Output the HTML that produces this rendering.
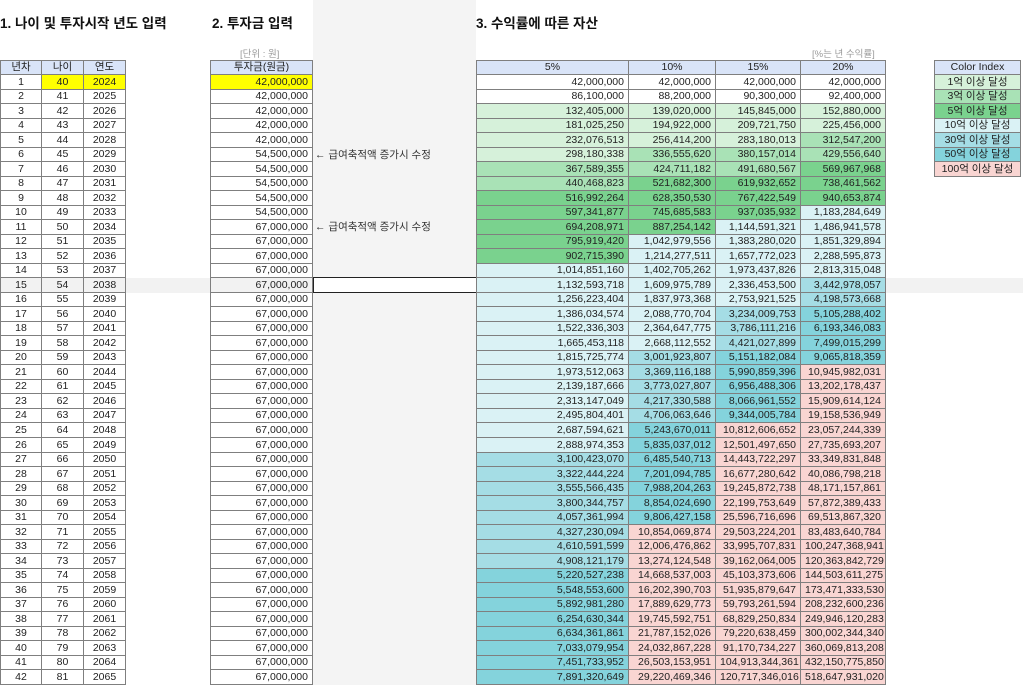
<!DOCTYPE html>
<html><head><meta charset="utf-8">
<style>
body{margin:0;width:1023px;height:685px;overflow:hidden;background:#fff;position:relative;font-family:"Liberation Sans","Noto Sans CJK KR",sans-serif;font-size:10.5px;color:#222}
.c{position:absolute;box-sizing:border-box;border-right:1px solid #7f7f7f;border-bottom:1px solid #7f7f7f;white-space:nowrap;overflow:hidden;padding:0 4px}
.t{position:absolute;font-weight:bold;font-size:13.5px;color:#111}
.s{position:absolute;font-size:9.5px;color:#999}
</style></head><body>
<div style="position:absolute;left:313px;top:0;width:163px;height:685px;background:#f4f4f4"></div>
<div class="t" style="left:0;top:12px">1. 나이 및 투자시작 년도 입력</div>
<div class="t" style="left:212px;top:12px">2. 투자금 입력</div>
<div class="t" style="left:476px;top:12px">3. 수익률에 따른 자산</div>
<div class="s" style="left:240px;top:46px">[단위 : 원]</div>
<div class="s" style="left:812px;top:46px">[%는 년 수익률]</div>
<div id="g"></div>
<script>
const rates=["5%","10%","15%","20%"];
const deposits=[42e6,42e6,42e6,42e6,42e6,54.5e6,54.5e6,54.5e6,54.5e6,54.5e6].concat(Array(32).fill(67e6));
const r5=[42000000,86100000,132405000,181025250,232076513,298180338,367589355,440468823,516992264,597341877,694208971,795919420,902715390,1014851160,1132593718,1256223404,1386034574,1522336303,1665453118,1815725774,1973512063,2139187666,2313147049,2495804401,2687594621,2888974353,3100423070,3322444224,3555566435,3800344757,4057361994,4327230094,4610591599,4908121179,5220527238,5548553600,5892981280,6254630344,6634361861,7033079954,7451733952,7891320649];
const r10=[42000000,88200000,139020000,194922000,256414200,336555620,424711182,521682300,628350530,745685583,887254142,1042979556,1214277511,1402705262,1609975789,1837973368,2088770704,2364647775,2668112552,3001923807,3369116188,3773027807,4217330588,4706063646,5243670011,5835037012,6485540713,7201094785,7988204263,8854024690,9806427158,10854069874,12006476862,13274124548,14668537003,16202390703,17889629773,19745592751,21787152026,24032867228,26503153951,29220469346];
const r15=[42000000,90300000,145845000,209721750,283180013,380157014,491680567,619932652,767422549,937035932,1144591321,1383280020,1657772023,1973437826,2336453500,2753921525,3234009753,3786111216,4421027899,5151182084,5990859396,6956488306,8066961552,9344005784,10812606652,12501497650,14443722297,16677280642,19245872738,22199753649,25596716696,29503224201,33995707831,39162064005,45103373606,51935879647,59793261594,68829250834,79220638459,91170734227,104913344361,120717346016];
const r20=[42000000,92400000,152880000,225456000,312547200,429556640,569967968,738461562,940653874,1183284649,1486941578,1851329894,2288595873,2813315048,3442978057,4198573668,5105288402,6193346083,7499015299,9065818359,10945982031,13202178437,15909614124,19158536949,23057244339,27735693207,33349831848,40086798218,48171157861,57872389433,69513867320,83483640784,100247368941,120363842729,144503611275,173471333530,208232600236,249946120283,300002344340,360069813208,432150775850,518647931020];
const legendLabels=["1억 이상 달성","3억 이상 달성","5억 이상 달성","10억 이상 달성","30억 이상 달성","50억 이상 달성","100억 이상 달성"];
const thresholds=[1e8,3e8,5e8,1e9,3e9,5e9,1e10];
const colors=["#d6f1da","#a9e2b6","#7ad28e","#daf2f5","#a5dde5","#84d3dc","#f9d5d2"];
const g=document.getElementById('g');
const Y0=75,RH=14.52;
function ry(i){return Math.round(Y0+i*RH);}
function rh(i){return ry(i+1)-ry(i);}
function fmt(v){return Math.round(v).toLocaleString('en-US');}
function col(v){let c="#fff";for(let k=0;k<thresholds.length;k++)if(v>=thresholds[k])c=colors[k];return c;}
function cell(x,y,w,h,txt,bg,align,name,first,top){
 const d=document.createElement('div');d.className='c';
 
 
 d.style.left=x+'px';d.style.top=(top?y-1:y)+'px';d.style.width=w+'px';d.style.height=(top?h+1:h)+'px';
 d.style.lineHeight=(h-1)+'px';
 d.style.background=bg;d.style.textAlign=align;d.textContent=txt;
 if(first)d.style.borderLeft='1px solid #7f7f7f';
 if(top)d.style.borderTop='1px solid #7f7f7f';
 g.appendChild(d);
}
const hl=document.createElement('div');


hl.style.cssText='position:absolute;left:0;width:1023px;top:'+ry(14)+'px;height:'+rh(14)+'px;background:#f2f2f2';
g.appendChild(hl);
const hb="#d9e4f8";
[["년차",0],["나이",42],["연도",84]].forEach(([t,x],k)=>cell(x,61,42,14,t,hb,'center','header-'+['index','age','year'][k],k==0,true));
for(let i=0;i<42;i++){
 const y=ry(i),h=rh(i),hi=(i==14)?"#f2f2f2":"#fff";
 cell(0,y,42,h,String(i+1),hi,'center','row-index',true,false);
 cell(42,y,42,h,String(40+i),i==0?"#ffff00":hi,'center','age-cell',false,false);
 cell(84,y,42,h,String(2024+i),i==0?"#ffff00":hi,'center','year-cell',false,false);
}
cell(210,61,103,14,"투자금(원금)",hb,'center','header-principal',true,true);
for(let i=0;i<42;i++)cell(210,ry(i),103,rh(i),fmt(deposits[i]),i==0?"#ffff00":(i==14?"#f2f2f2":"#fff"),'right','principal-cell',true,false);
const sel=document.createElement('div');


sel.style.cssText='position:absolute;box-sizing:border-box;left:313px;width:164px;top:'+(ry(14)-1)+'px;height:'+(rh(14)+1)+'px;background:#fff;border:1.5px solid #222';
g.appendChild(sel);
[5,10].forEach(i=>{const n=document.createElement('div');
 
 
 n.style.cssText='position:absolute;left:315px;top:'+ry(i)+'px;line-height:14px;font-size:10.5px;color:#333;white-space:nowrap';
 n.textContent='← 급여축적액 증가시 수정';g.appendChild(n);});
const cx=[476,629,716,801],cw=[153,87,85,85];
const series=[r5,r10,r15,r20];
rates.forEach((r,k)=>cell(cx[k],61,cw[k],14,r,hb,'center','header-rate-'+r.replace('%',''),k==0,true));
for(let i=0;i<42;i++)for(let k=0;k<4;k++){
 const v=series[k][i];
 cell(cx[k],ry(i),cw[k],rh(i),fmt(v),col(v),'right','asset-cell',k==0,false);
}
cell(934,61,87,14,"Color Index",hb,'center','legend-header',true,true);
legendLabels.forEach((t,k)=>cell(934,ry(k),87,rh(k),t,colors[k],'center','legend-entry',true,false));
</script>
</body></html>
